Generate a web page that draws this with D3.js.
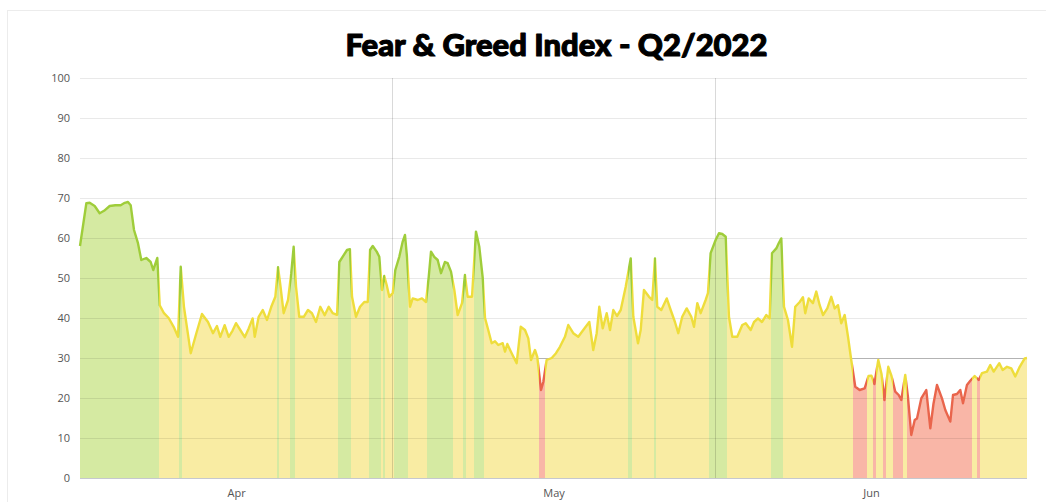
<!DOCTYPE html>
<html>
<head>
<meta charset="utf-8">
<script src="https://cdn.jsdelivr.net/npm/d3@7"></script>
<style>
  body { margin: 0; background: #fff; }
  svg { display: block; font-family: "Open Sans", sans-serif; }
</style>
</head>
<body>
<div id="chart"><svg width="1046" height="502"></svg></div>
<script>
const MARGIN = { TOP: 78, BOTTOM: 24, LEFT: 80, RIGHT: 19 };
const W = 1046, H = 502;
const width = W - MARGIN.LEFT - MARGIN.RIGHT;
const height = H - MARGIN.TOP - MARGIN.BOTTOM;

const title = "Fear & Greed Index - Q2/2022";
const start = Date.UTC(2022, 3, 1);
const end = Date.UTC(2022, 6, 1);

// days since Apr 1 and the index value at that time
const dayOffsets = [
  0, 0.61, 0.93, 1.41, 1.89, 2.31, 2.85, 3.39, 3.91, 4.30, 4.61, 4.87, 5.19, 5.57, 5.89, 6.37,
  6.79, 7.04, 7.43, 7.66, 8.07, 8.52, 9.00, 9.42, 9.68, 9.99, 10.64, 11.18, 11.72, 12.30, 12.78,
  13.16, 13.48, 13.90, 14.29, 14.65, 14.99, 15.40, 15.83, 16.21, 16.59, 16.79, 17.17, 17.56, 17.97,
  18.38, 18.77, 19.03, 19.25, 19.57, 19.99, 20.30, 20.53, 20.76, 21.07, 21.50, 21.91, 22.29, 22.68,
  23.09, 23.51, 23.90, 24.28, 24.70, 24.92, 25.34, 25.66, 25.94,
  26.14, 26.52, 26.91, 27.32, 27.65, 27.87, 28.13, 28.51, 28.76, 29.02, 29.24, 29.47, 29.72, 30.05,
  30.30, 30.68, 31.01, 31.23, 31.42, 31.71, 31.97, 32.45, 32.86, 33.25, 33.51, 33.73, 34.04, 34.37,
  34.69, 35.07, 35.33, 35.65, 35.97, 36.29, 36.71, 36.99, 37.25, 37.67, 38.05, 38.37, 38.70,
  38.92, 39.23, 39.56, 39.88, 40.19, 40.62, 40.84, 41.06, 41.48, 41.96, 42.35, 42.76, 43.08, 43.34,
  43.72, 43.94, 44.30, 44.52, 44.84, 45.33, 45.74, 46.12, 46.60, 46.92, 47.40, 47.88, 48.36, 48.94,
  49.32, 49.65, 49.90, 50.23, 50.61, 50.93, 51.25, 51.60,
  51.96, 52.44, 52.92, 53.17, 53.62, 53.88, 54.19, 54.68, 54.99, 55.25, 55.47, 55.86, 56.38, 56.76,
  57.17, 57.49, 57.87, 58.30, 58.74, 59.00, 59.32, 59.64, 60.12, 60.34, 60.60, 61.08, 61.40, 61.72,
  62.05, 62.36, 62.68, 63.16, 63.64, 63.97,
  64.45, 64.77, 65.15, 65.53, 65.95, 66.27, 66.49, 66.91, 67.14, 67.39, 67.65, 68.03, 68.42, 68.73,
  69.16, 69.47, 69.69, 70.02, 70.43, 70.75, 71.08, 71.40, 71.81, 72.19, 72.52, 72.84, 73.15, 73.48,
  73.80, 74.11,
  74.50, 74.92, 75.40, 75.77, 76.05, 76.34, 76.71, 77.02, 77.30, 77.67, 77.98, 78.34, 78.67, 78.92,
  79.30, 79.56, 79.88, 80.21, 80.43, 80.84, 81.32, 81.71, 82.01, 82.35, 82.83, 83.15, 83.63, 83.89,
  84.27, 84.59, 84.85, 85.23, 85.55, 85.97, 86.36, 86.67, 87.15, 87.47, 87.80, 88.34, 88.66, 89.08,
  89.49, 89.87, 90.30, 90.78, 91.00
];

const fgValues = [
  58, 68.7, 68.8, 68, 66.2, 66.8, 68, 68.2, 68.2, 68.8, 69, 68.2, 62, 58.7, 54.5, 55,
  54, 52, 55, 43.2, 41.2, 40, 37.8, 35.3, 52.8, 42.8, 31.2, 36.2, 41, 39, 36.2,
  38, 35.3, 38.2, 35.3, 36.8, 38.7, 37, 35.2, 37.4, 39.9, 35.3, 40.3, 42, 39.5,
  42.8, 45.3, 52.7, 48.25, 41.2, 44.5, 51.2, 57.8, 47.8, 40.3, 40.3, 42, 41.2, 39,
  42.8, 40.7, 42.8, 41.2, 40.8, 54, 55.7, 57, 57.2,
  45.3, 40.3, 42.8, 44, 44, 57, 58, 56.6, 55.3, 47, 50.5, 48.25, 45.3, 46.2,
  52, 55.3, 59.1, 60.75, 55.3, 42.8, 44.9, 44.5, 44.9, 44, 50.3, 56.6, 55.3, 54.5,
  51.2, 54, 53.7, 51.6, 47, 40.75, 43.7, 50.75, 45.3, 45.3, 61.6, 57.8, 50,
  40, 37, 33.7, 34.2, 33.25, 33.7, 31.6, 33.5, 31.2, 28.7, 37.8, 37, 34.9, 29.5,
  32, 30.3, 22, 24, 29.5, 30, 31.2, 32.8, 35.3, 38.25, 36.2, 35.3, 37, 39,
  32, 36.2, 42.8, 37.4, 41.2, 37, 42, 40.5,
  42, 47.8, 54.9, 40.3, 33.7, 37, 47, 45.3, 44.5, 54.9, 42.8, 42, 44.9, 42,
  39, 36.2, 40.3, 42.4, 40.3, 37.8, 43.7, 41.2, 44.5, 46.2, 56.2, 59.5, 61.2, 61,
  60.3, 40.3, 35.3, 35.3, 38.25, 38.7,
  37, 39, 39.9, 39, 40.75, 39.9, 56.2, 57.4, 58.7, 59.9, 42.8, 39.5, 32.8, 42.8,
  44, 45.2, 41.2, 44.9, 43.7, 46.6, 43.2, 40.75, 42.4, 45.3, 42.4, 43.2, 38.7, 40.75,
  35.3, 29.5,
  22.8, 22, 22.4, 25.5, 25.6, 23.5, 29.5, 26, 19.5, 27.8, 25.5, 21.6, 20.75, 19.5,
  25.75, 20.3, 10.75, 14.5, 14.9, 19.9, 22, 12.4, 18.5, 23.25, 19.9, 17, 14.1, 20.75,
  21, 22, 18.7, 23.25, 24.3, 25.5, 24.5, 26.2, 26.6, 28.25, 26.6, 28.7, 27, 27.8,
  27.4, 25.4, 27.8, 29.9, 30
];

const yTicks = [0, 10, 20, 30, 40, 50, 60, 70, 80, 90, 100];
const monthStarts = [Date.UTC(2022, 3, 1), Date.UTC(2022, 4, 1), Date.UTC(2022, 5, 1), Date.UTC(2022, 6, 1)];
const monthLabels = ["Apr", "May", "Jun"];
const monthDividers = [Date.UTC(2022, 4, 1), Date.UTC(2022, 5, 1)];

// zones: fear < 25, neutral < 50, greed above
const zones = [
  { max: 25, fill: "#f9b6a7", line: "#e9654c" },
  { max: 50, fill: "#f9eca3", line: "#eedd3c" },
  { max: 101, fill: "#d5eaa2", line: "#9fcd3a" }
];
const zoneOf = v => zones.find(z => v < z.max);

const n = Math.min(dayOffsets.length, fgValues.length);
const data = d3.range(n).map(i => ({ t: new Date(start + dayOffsets[i] * 864e5), v: fgValues[i] }));

const svg = d3.select("svg");

svg.append("rect")
  .attr("x", 7.5).attr("y", 10.5)
  .attr("width", W).attr("height", H)
  .attr("fill", "none").attr("stroke", "#ececec");

svg.append("text")
  .attr("x", MARGIN.LEFT + width / 2 + 3)
  .attr("y", 56)
  .attr("text-anchor", "middle")
  .style("font-family", "'Lato Black', Lato, sans-serif")
  .style("font-weight", 900)
  .style("font-size", "31px")
  .attr("fill", "#000")
  .attr("stroke", "#000")
  .attr("stroke-width", 1.1)
  .attr("stroke-linejoin", "round")
  .text(title);

const g = svg.append("g")
  .attr("transform", "translate(" + MARGIN.LEFT + "," + MARGIN.TOP + ")");

const x = d3.scaleUtc().domain([start, end]).range([0, width]);
const y = d3.scaleLinear().domain([0, 100]).range([height, 0]);

// horizontal gradients with hard stops: each point colours its own cell
const defs = svg.append("defs");
function makeGradient(id, key) {
  const grad = defs.append("linearGradient")
    .attr("id", id)
    .attr("gradientUnits", "userSpaceOnUse")
    .attr("x1", 0).attr("x2", width).attr("y1", 0).attr("y2", 0);
  data.forEach((d, i) => {
    const xi = x(d.t);
    const a = i === 0 ? 0 : (x(data[i - 1].t) + xi) / 2;
    const b = i === n - 1 ? width : (x(data[i + 1].t) + xi) / 2;
    const c = zoneOf(d.v)[key];
    grad.append("stop").attr("offset", a / width).attr("stop-color", c);
    grad.append("stop").attr("offset", b / width).attr("stop-color", c);
  });
}
makeGradient("fillGrad", "fill");
makeGradient("lineGrad", "line");

const area = d3.area()
  .x(d => x(d.t))
  .y0(height)
  .y1(d => y(d.v));

const line = d3.line()
  .x(d => x(d.t))
  .y(d => y(d.v));

// the 30 line shows darker only where the data sits below it
g.append("line")
  .attr("x1", 0).attr("x2", width)
  .attr("y1", Math.round(y(30)) + 0.5).attr("y2", Math.round(y(30)) + 0.5)
  .attr("stroke", "#c4c4c4");

g.append("path")
  .datum(data)
  .attr("d", area)
  .attr("fill", "url(#fillGrad)");

// grid on top of the fill
g.append("g")
  .call(d3.axisLeft(y).tickValues(yTicks).tickSize(-width).tickFormat(""))
  .call(a => a.select(".domain").remove())
  .call(a => a.selectAll("line")
    .attr("stroke", "rgba(0,0,0,0.085)")
    .attr("stroke-width", 1));

g.selectAll(".divider")
  .data(monthDividers)
  .enter().append("line")
  .attr("class", "divider")
  .attr("x1", d => Math.round(x(d)) + 0.5)
  .attr("x2", d => Math.round(x(d)) + 0.5)
  .attr("y1", 0).attr("y2", height)
  .attr("stroke", "rgba(0,0,0,0.15)");

g.append("path")
  .datum(data)
  .attr("d", line)
  .attr("fill", "none")
  .attr("stroke", "url(#lineGrad)")
  .attr("stroke-width", 2.4)
  .attr("stroke-linejoin", "round");

g.append("line")
  .attr("x1", 0).attr("x2", width)
  .attr("y1", height + 0.5).attr("y2", height + 0.5)
  .attr("stroke", "#c6c8cf");

// y axis labels
g.append("g")
  .call(d3.axisLeft(y).tickValues(yTicks).tickSize(0).tickPadding(10))
  .call(a => a.select(".domain").remove())
  .call(a => a.selectAll("text")
    .style("font-family", "'Open Sans', sans-serif")
    .style("font-size", "11px")
    .attr("fill", "#555"));

// month labels centred in each month
const monthMids = monthLabels.map((m, i) => new Date((monthStarts[i] + monthStarts[i + 1]) / 2));
g.append("g")
  .attr("transform", "translate(0," + height + ")")
  .call(d3.axisBottom(x).tickValues(monthMids).tickSize(0).tickPadding(11)
    .tickFormat((d, i) => monthLabels[i]))
  .call(a => a.select(".domain").remove())
  .call(a => a.selectAll("text")
    .style("font-family", "'Open Sans', sans-serif")
    .style("font-size", "11px")
    .attr("fill", "#555"));
</script>
</body>
</html>
